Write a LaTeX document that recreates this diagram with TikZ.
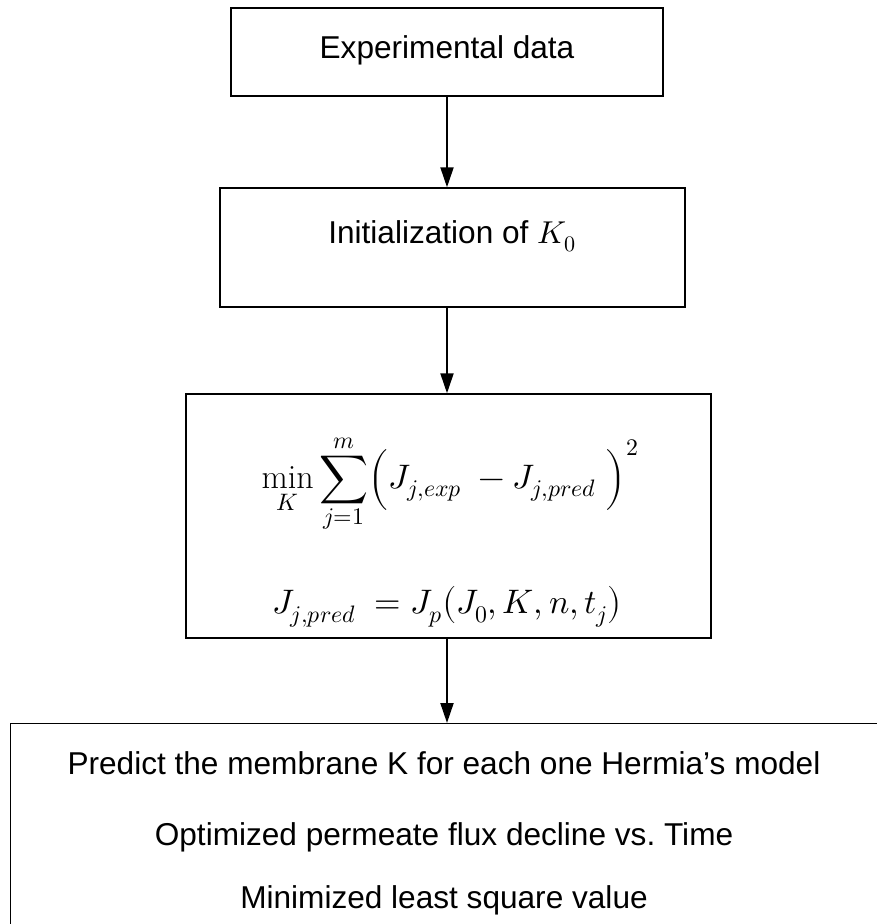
\documentclass[tikz,border=0pt]{standalone}
\usepackage{fontspec}
\usepackage{unicode-math}
\setmainfont{Liberation Sans}
\setmathfont{Latin Modern Math}
\setmathrm{Latin Modern Roman}
\usetikzlibrary{arrows.meta,calc}
\tikzset{
  boxnode/.style={draw=black, line width=1.4pt, rectangle, inner sep=0pt},
  txt/.style={font=\fontsize{31.6}{38}\selectfont, inner sep=0pt, anchor=center},
  mathtxt/.style={font=\fontsize{34}{40}\selectfont, inner sep=0pt, anchor=center},
  flow/.style={line width=2pt, -{Triangle[width=13pt,length=20pt]}}
}
\begin{document}
\begin{tikzpicture}[x=1pt,y=-1pt]
\useasboundingbox (0,0) rectangle (877,924);
% boxes
\node[boxnode, minimum width=432pt, minimum height=88pt] (b1) at (447,52) {};
\node[boxnode, minimum width=465pt, minimum height=119pt] (b2) at (452.5,247.5) {};
\node[boxnode, minimum width=525pt, minimum height=244pt] (b3) at (448.5,516) {};
\node[boxnode, minimum width=900pt, minimum height=240pt, anchor=north west] (b4) at (10,723) {};
% texts
\node[txt] (t1) at (447,50) {Experimental data};
\node[txt] (t2) at (452,236) {Initialization of $K_0$};
\node[mathtxt] (t3a) at (450,484) {$\displaystyle \min_K \sum_{j=1}^{m}\Bigl(J_{j,exp}\;-J_{j,pred}\;\Bigr)^{2}$};
\node[mathtxt] (t3b) at (447,606) {$J_{j,pred}\;=J_p\bigl(J_0,K,n,t_j\bigr)$};
\node[txt] (t4a) at (444,763) {Predict the membrane K for each one Hermia’s model};
\node[txt] (t4b) at (444,837) {Optimized permeate flux decline vs.\ Time};
\node[txt] (t4c) at (444,900) {Minimized least square value};
% connectors
\draw[flow] (b1.south) -- (b1.south |- b2.north);
\draw[flow] (b1.south |- b2.south) -- (b1.south |- b3.north);
\draw[flow] (b1.south |- b3.south) -- (b1.south |- b4.north);
\end{tikzpicture}
\end{document}
